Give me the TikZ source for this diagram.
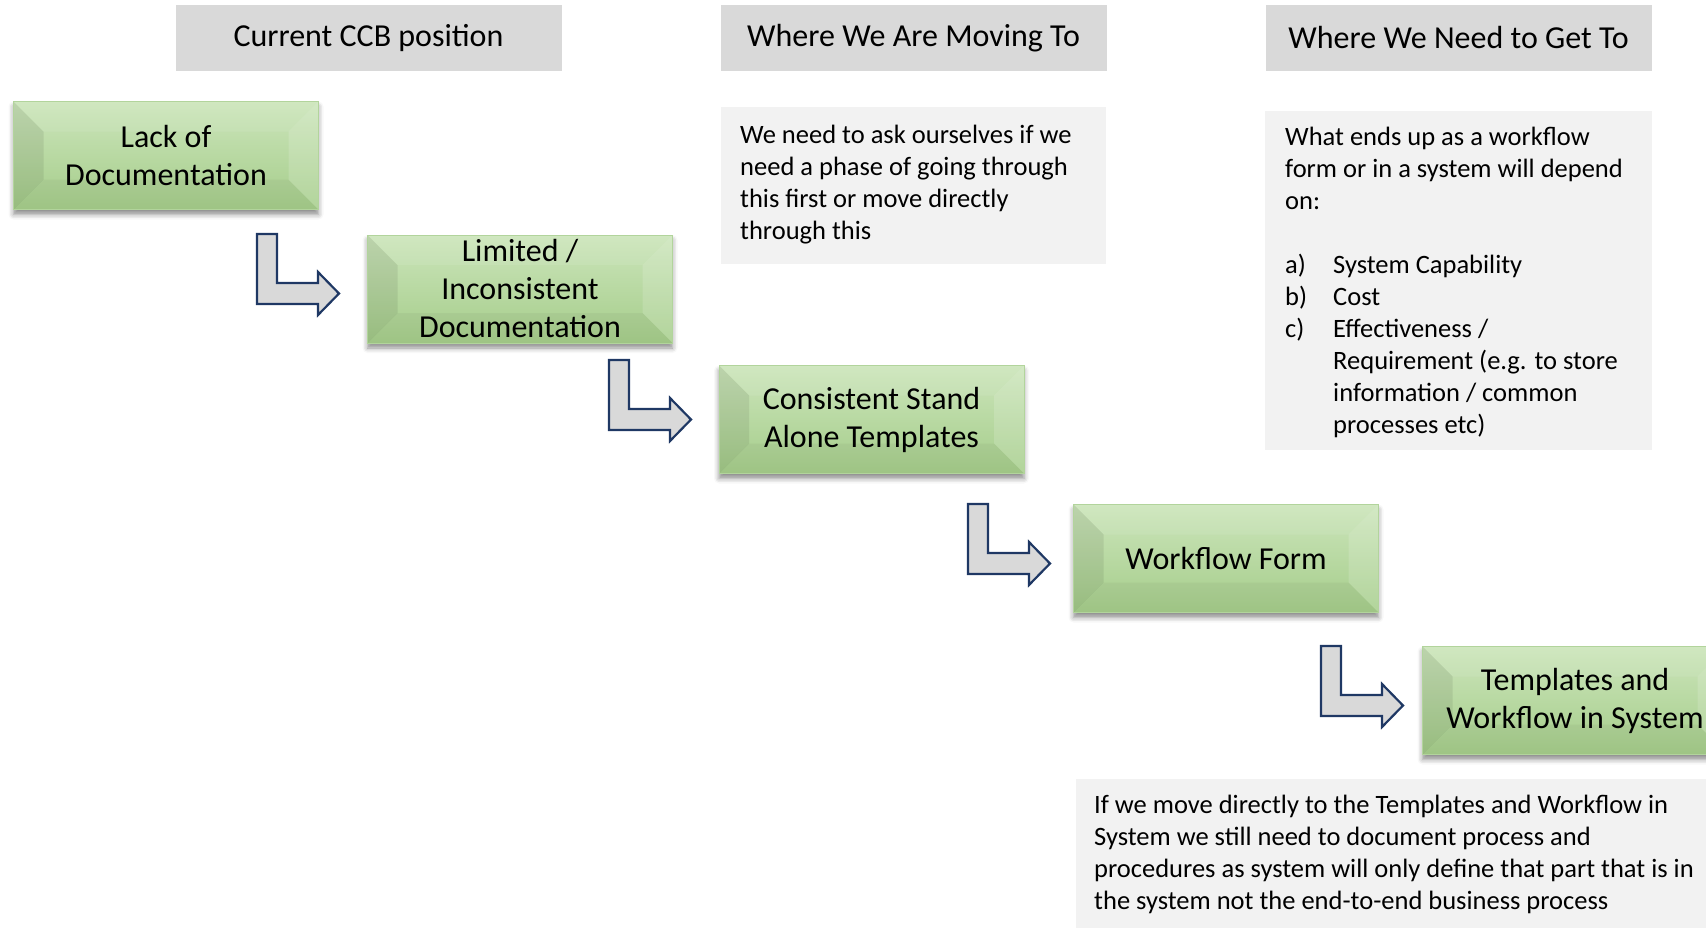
\documentclass[tikz,border=0pt]{standalone}
\usepackage{fontspec}
\setmainfont{Carlito}
\usetikzlibrary{shadows.blur}

\definecolor{hdrgrey}{RGB}{217,217,217}
\definecolor{notegrey}{RGB}{242,242,242}
\definecolor{greentop}{RGB}{204,229,187}
\definecolor{greenbot}{RGB}{165,205,138}
\definecolor{arrowfill}{RGB}{217,217,217}
\definecolor{arrowline}{RGB}{31,56,100}

\tikzset{
  header/.style={fill=hdrgrey, minimum width=386, minimum height=66, inner sep=0,
    font=\fontsize{32}{38}\selectfont},
  notebox/.style={fill=notegrey},
  notetext/.style={anchor=north west, align=left, inner sep=0,
    font=\fontsize{26.5}{32}\selectfont},
  stepbox/.style={rectangle, minimum width=305, minimum height=108, inner sep=0,
    align=center, font=\fontsize{32}{38}\selectfont,
    top color=greentop, bottom color=greenbot,
    draw=greenbot!85!white, line width=0.8,
    blur shadow={shadow xshift=0pt, shadow yshift=-5pt, shadow blur radius=5pt, shadow opacity=45},
    path picture={
      % bevel: darker left and bottom faces, lighter top and right faces
      \fill[black, opacity=0.08] (path picture bounding box.north west) -- ++(30,30)
        -- ([shift={(30,-30)}]path picture bounding box.south west)
        -- (path picture bounding box.south west) -- cycle;
      \fill[black, opacity=0.04] (path picture bounding box.south west) -- ++(30,-30)
        -- ([shift={(-30,-30)}]path picture bounding box.south east)
        -- (path picture bounding box.south east) -- cycle;
      \fill[white, opacity=0.08] (path picture bounding box.north west) -- ++(30,30)
        -- ([shift={(-30,30)}]path picture bounding box.north east)
        -- (path picture bounding box.north east) -- cycle;
      \fill[white, opacity=0.15] (path picture bounding box.north east) -- ++(-30,30)
        -- ([shift={(-30,-30)}]path picture bounding box.south east)
        -- (path picture bounding box.south east) -- cycle;
    }},
  arrowbody/.style={fill=arrowfill, draw=arrowline, line width=2.2, line join=miter},
  larrow/.pic={
    \draw[arrowbody] (0,0) -- (20,0) -- (20,49) -- (61,49) -- (61,38) -- (82,59.5)
      -- (61,81) -- (61,70) -- (0,70) -- cycle;
  }
}

\begin{document}
\begin{tikzpicture}[x=1pt, y=-1pt]
\useasboundingbox (0,0) rectangle (1706,927);
\clip (0,0) rectangle (1706,927);

% column headings
\node[header] (h1) at (368.5,38) {Current CCB position};
\node[header] (h2) at (913.5,38) {Where We Are Moving To};
\node[header] (h3) at (1458.5,38) {Where We Need to Get To};

% side notes
\fill[notebox] (721,107) rectangle (1106,264);
\node[notetext] (n1) at (740,124.5) {We need to ask ourselves if we\\need a phase of going through\\this first or move directly\\through this};

\fill[notebox] (1265,111) rectangle (1652,450);
\node[notetext] (n2) at (1285,126.5) {What ends up as a workflow\\form or in a system will depend\\on:\\[32pt]%
\makebox[48pt][l]{a)}System Capability\\
\makebox[48pt][l]{b)}Cost\\
\makebox[48pt][l]{c)}Effectiveness /\\
\hspace*{48pt}Requirement (e.g. to store\\
\hspace*{48pt}information / common\\
\hspace*{48pt}processes etc)};

\fill[notebox] (1076,779) rectangle (1720,940);
\node[notetext] (n3) at (1094,794.5) {If we move directly to the Templates and Workflow in\\System we still need to document process and\\procedures as system will only define that part that is in\\the system not the end-to-end business process};

% maturity steps
\node[stepbox] (s1) at (166,155.5) {Lack of\\Documentation};
\node[stepbox] (s2) at (520,289) {Limited /\\Inconsistent\\Documentation};
\node[stepbox] (s3) at (871.5,419.5) {Consistent Stand\\Alone Templates};
\node[stepbox] (s4) at (1226,558.5) {Workflow Form};
\node[stepbox] (s5) at (1575,700.5) {Templates and\\Workflow in System};

% step-down arrows between the stages
\pic (a1) at (257,234) {larrow};
\pic (a2) at (609,360) {larrow};
\pic (a3) at (968,504) {larrow};
\pic (a4) at (1321,646) {larrow};
\end{tikzpicture}
\end{document}
